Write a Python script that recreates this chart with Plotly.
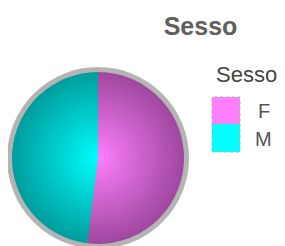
import plotly.graph_objects as go

# Data
labels = ["F", "M"]
values = [52, 48]
title_text = "Sesso"
legend_title = "Sesso"

# Style (page offset of 8px from body margin)
OFF = 8
W, H = 285, 246
CX, CY, R = 98 - OFF, 158 - OFF, 86
center_cols = [(255, 128, 255), (0, 255, 255)]
edge_cols = [(160, 72, 160), (0, 158, 158)]
N = 30


def px(x):
    return (x - OFF) / W


def py(y):
    return 1 - (y - OFF) / H


def dom(r):
    return dict(x=[(CX - r) / W, (CX + r) / W], y=[1 - (CY + r) / H, 1 - (CY - r) / H])


def mix(a, b, t):
    return "rgb(%d,%d,%d)" % tuple(round(a[k] + (b[k] - a[k]) * t) for k in range(3))


fig = go.Figure()
# grey border ring
fig.add_trace(go.Pie(labels=["ring"], values=[1], domain=dom(R), sort=False,
                     marker=dict(colors=["#b4b4b4"], line=dict(color="#b4b4b4", width=10)),
                     textinfo="none", hoverinfo="skip", showlegend=False))
# gradient stack
for i in range(N, 0, -1):
    r = R * i / N
    t = i / N
    cols = [mix(center_cols[j], edge_cols[j], t) for j in range(2)]
    fig.add_trace(go.Pie(labels=labels, values=values, domain=dom(r), sort=False,
                         direction="clockwise", rotation=0,
                         marker=dict(colors=cols, line=dict(width=0)),
                         textinfo="none", hoverinfo="label+value" if i == N else "skip",
                         showlegend=False))

# manual legend
sw = [("#ff80ff", 97, 124), ("#00ffff", 124, 152)]
shapes = []
for c, y0, y1 in sw:
    shapes.append(dict(type="rect", xref="paper", yref="paper",
                       x0=px(212), x1=px(240), y0=py(y1), y1=py(y0),
                       fillcolor=c, line=dict(color="#b0b0b0", width=1, dash="dot")))
annotations = [
    dict(text=legend_title, x=px(214), y=py(74.5), xref="paper", yref="paper",
         xanchor="left", yanchor="middle", showarrow=False,
         font=dict(family="Liberation Sans, Arial", size=22, color="#444444")),
    dict(text=labels[0], x=px(263.5), y=py(110.5), xref="paper", yref="paper",
         xanchor="center", yanchor="middle", showarrow=False,
         font=dict(family="Liberation Sans, Arial", size=20, color="#555555")),
    dict(text=labels[1], x=px(263.5), y=py(138.5), xref="paper", yref="paper",
         xanchor="center", yanchor="middle", showarrow=False,
         font=dict(family="Liberation Sans, Arial", size=20, color="#555555")),
]

fig.update_layout(
    width=W, height=H,
    margin=dict(l=0, r=0, t=0, b=0),
    paper_bgcolor="white", plot_bgcolor="white",
    title=dict(text="<b>%s</b>" % title_text, x=px(200.5), xanchor="center",
               y=py(26), yanchor="middle",
               font=dict(family="Liberation Sans, Arial", size=25, color="#606060")),
    shapes=shapes, annotations=annotations, showlegend=False,
)

fig.write_html("out.html")
